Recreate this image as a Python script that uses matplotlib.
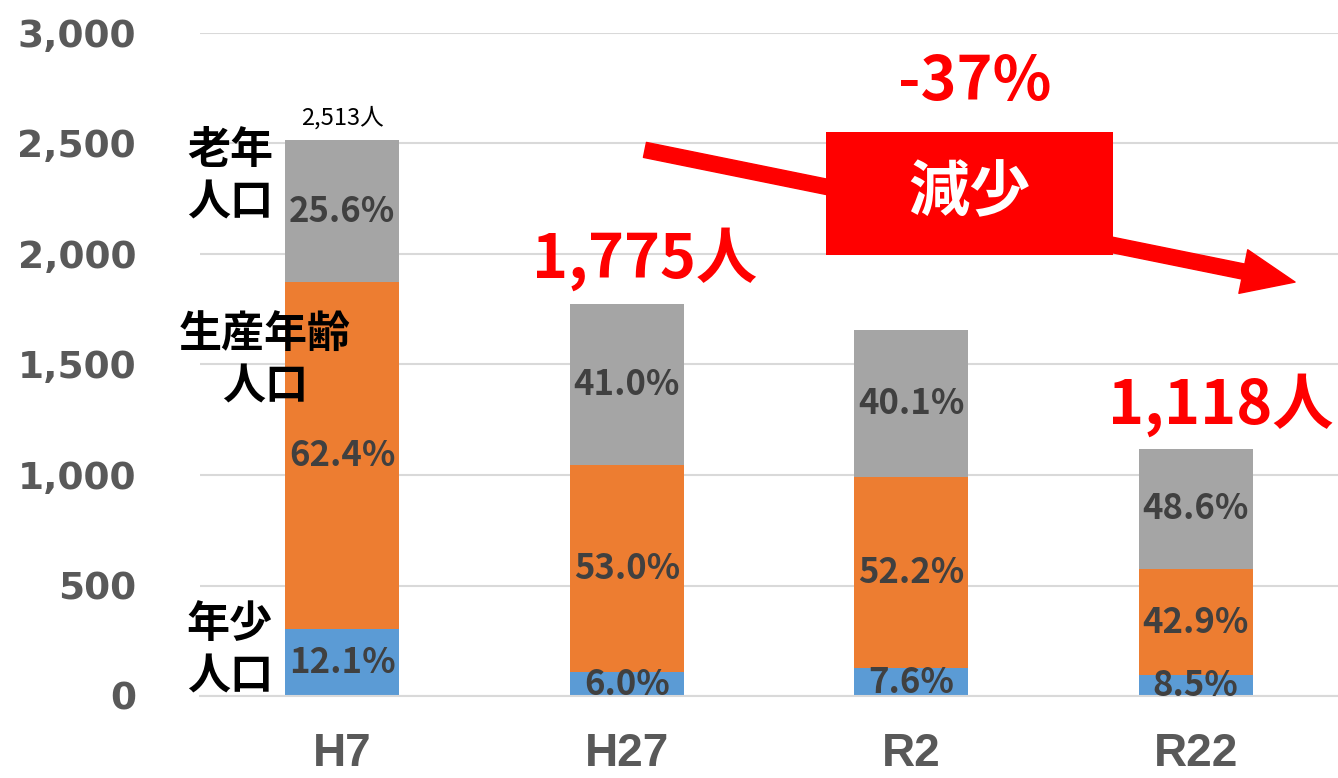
import numpy as np
import matplotlib
matplotlib.use("Agg")
from matplotlib import pyplot as plt
from matplotlib.patches import Rectangle

plt.rcParams['font.family'] = ['Noto Sans CJK JP', 'DejaVu Sans']

years = ['H7', 'H27', 'R2', 'R22']
totals = [2513, 1775, 1659, 1118]
young_pct = [12.1, 6.0, 7.6, 8.5]
work_pct = [62.4, 53.0, 52.2, 42.9]
old_pct = [25.6, 41.0, 40.1, 48.6]

C_YOUNG = '#5B9BD5'
C_WORK = '#ED7D31'
C_OLD = '#A5A5A5'
LBL = '#404040'
AXC = '#595959'

totals = np.array(totals, dtype=float)
young = totals * np.array(young_pct) / 100
work = totals * np.array(work_pct) / 100
old = totals * np.array(old_pct) / 100
x = np.arange(len(years))

fig = plt.figure(figsize=(13.38, 7.78), dpi=100)
ax = fig.add_axes([200 / 1338, 82 / 778, 1138 / 1338, 663 / 778])

w = 0.4
ax.bar(x, young, w, color=C_YOUNG, zorder=2)
ax.bar(x, work, w, bottom=young, color=C_WORK, zorder=2)
ax.bar(x, old, w, bottom=young + work, color=C_OLD, zorder=2)

# percent labels in segment centres
for i in range(len(years)):
    for bottom, h, p in [(0, young[i], young_pct[i]),
                         (young[i], work[i], work_pct[i]),
                         (young[i] + work[i], old[i], old_pct[i])]:
        ax.text(x[i], bottom + h / 2, f'{p:.1f}%', ha='center', va='center',
                fontsize=25, fontweight='bold', color=LBL, zorder=3)

ax.set_xlim(-0.5, 3.5)
ax.set_ylim(0, 3000)
ax.set_yticks(np.arange(0, 3001, 500))
ax.set_yticklabels([f'{v:,}' for v in range(0, 3001, 500)],
                   family='DejaVu Sans', fontweight='bold', fontsize=27, color=AXC)
ax.set_xticks(x)
ax.set_xticklabels(years, family='Liberation Sans', fontweight='bold', fontsize=33, color=AXC)
ax.tick_params(axis='both', length=0)
ax.tick_params(axis='y', pad=46)
ax.tick_params(axis='x', pad=26)
ax.yaxis.grid(True, color='#D9D9D9', linewidth=1.5, zorder=0)
ax.set_axisbelow(True)
for s in ['top', 'right', 'left']:
    ax.spines[s].set_visible(False)
ax.spines['bottom'].set_color('#D9D9D9')
ax.spines['bottom'].set_linewidth(1.5)

# total labels
ax.text(x[0], 2615, f'{int(totals[0]):,}人', ha='center', va='center', fontsize=17, color='black')
ax.text(1.064, 1975, f'{int(totals[1]):,}人', ha='center', va='center', fontsize=44,
        fontweight='bold', color='#FF0000')
ax.text(3.088, 1317, f'{int(totals[3]):,}人', ha='center', va='center', fontsize=44,
        fontweight='bold', color='#FF0000', clip_on=False)

# category labels on the left
lab = dict(ha='center', va='center', fontsize=31, fontweight='bold', color='black',
           linespacing=1.25, clip_on=False)
ax.text(-0.395, 2353, '老年\n人口', **lab)
ax.text(-0.272, 1520, '生産年齢\n人口', **lab)
ax.text(-0.395, 208, '年少\n人口', **lab)

# decrease arrow and box
ax.annotate('', xy=(3.349, 1873), xytext=(1.064, 2471),
            arrowprops=dict(width=11, headwidth=32, headlength=38, color='#FF0000', shrink=0),
            zorder=4)
ax.add_patch(Rectangle((1.700, 1996), 1.009, 556, facecolor='#FF0000', edgecolor='none', zorder=5))
ax.text(2.205, 2272, '減少', ha='center', va='center', fontsize=44, fontweight='bold',
        color='white', zorder=6)
ax.text(2.224, 2778, '-37%', ha='center', va='center', fontsize=44, fontweight='bold',
        color='#FF0000')

fig.savefig('out.png', dpi=100)
